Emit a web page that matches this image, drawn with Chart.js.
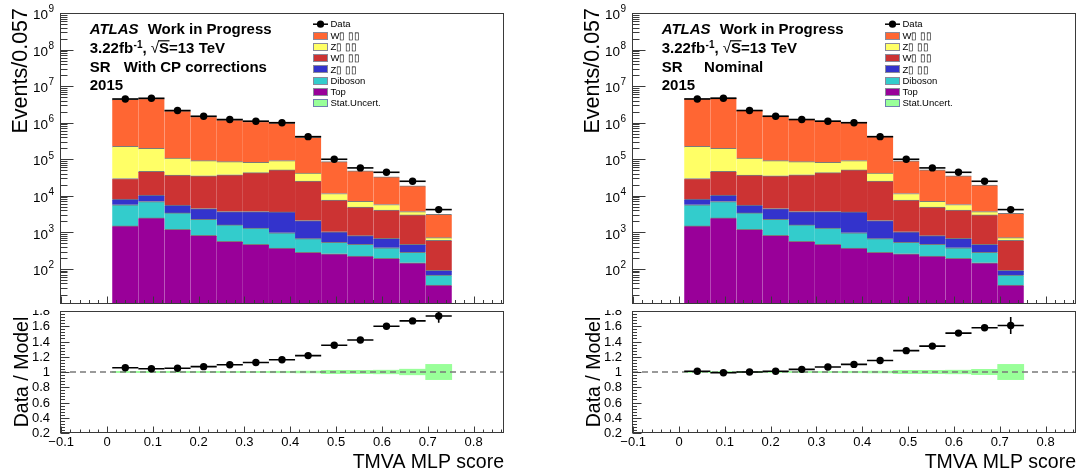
<!DOCTYPE html>
<html>
<head>
<meta charset="utf-8">
<title>TMVA MLP score</title>
<script src="https://cdn.jsdelivr.net/npm/chart.js@4.4.1/dist/chart.umd.min.js"></script>
<style>
  body { margin: 0; background: #fff; }
  #wrap { position: relative; width: 1084px; height: 472px; overflow: hidden; }
  canvas { position: absolute; }
</style>
</head>
<body>
<div id="wrap">
  <canvas id="topCP" width="542" height="309" style="left:0;top:0"></canvas>
  <canvas id="ratioCP" width="542" height="162" style="left:0;top:310px"></canvas>
  <canvas id="topNom" width="512" height="309" style="left:572px;top:0"></canvas>
  <canvas id="ratioNom" width="512" height="162" style="left:572px;top:310px"></canvas>
</div>
<script>
const FONT = '"Liberation Sans", Arial, Helvetica, sans-serif';

// binning: 0.057 wide bins
const xMin = -0.1026, xMax = 0.8664, binWidth = 0.057;
const binCenters = [0.0399, 0.0969, 0.1539, 0.2109, 0.2679, 0.3249, 0.3819, 0.4389, 0.4959, 0.5529, 0.6099, 0.6669, 0.7239];

// tick labels
const xTickLabels = [-0.1, 0, 0.1, 0.2, 0.3, 0.4, 0.5, 0.6, 0.7, 0.8];
const logTickExps = [2, 3, 4, 5, 6, 7, 8, 9];
const ratioTickLabels = [0.2, 0.4, 0.6, 0.8, 1, 1.2, 1.4, 1.6, 1.8];

// legend
const legendLabels = ['Data', 'W▯ ▯▯', 'Z▯ ▯▯', 'W▯ ▯▯', 'Z▯ ▯▯', 'Diboson', 'Top', 'Stat.Uncert.'];
const legendColors = [null, '#ff6633', '#ffff66', '#cc3333', '#3333cc', '#33cccc', '#990099', '#99ff99'];

// events per bin for each background (stack order bottom -> top)
const topEv     = [1500, 2490, 1220, 830, 570, 470, 370, 285, 260, 225, 195, 147, 36];
const dibosonEv = [4160, 4480, 2190, 1460, 1030, 850, 610, 390, 275, 245, 185, 137, 32];
const zBlueEv   = [2440, 3530, 2140, 2190, 2100, 2380, 2650, 1430, 500, 345, 305, 185, 23];
const wRedEv    = [21700, 36000, 31500, 31000, 34100, 39300, 47400, 23300, 6570, 4090, 3410, 2530, 516];
const zYellowEv = [196000, 153500, 70900, 56100, 48200, 39000, 41000, 16600, 4000, 2200, 1700, 700, 109];
const wOrangeCP  = [4110000, 4340000, 2010000, 1388000, 1114000, 998000, 878000, 358000, 74400, 41500, 27500, 15100, 2420];
const wOrangeNom = [4350000, 4650000, 2120000, 1450000, 1160000, 1040000, 915000, 375000, 79000, 44000, 29500, 16000, 2600];

const dataEv = [4450000, 4650000, 2150000, 1500000, 1220000, 1100000, 1000000, 415000, 100000, 58000, 44000, 25000, 4200];

// Data / Model
const ratioCP     = [1.056, 1.043, 1.05, 1.07, 1.095, 1.125, 1.16, 1.215, 1.35, 1.42, 1.60, 1.67, 1.735];
const ratioErrCP  = [0.004, 0.004, 0.005, 0.005, 0.006, 0.006, 0.007, 0.01, 0.015, 0.02, 0.025, 0.035, 0.09];
const bandCP      = [0.008, 0.008, 0.008, 0.008, 0.008, 0.008, 0.01, 0.012, 0.022, 0.022, 0.024, 0.037, 0.1];
const ratioNom    = [1.01, 0.99, 1.0, 1.01, 1.035, 1.065, 1.10, 1.15, 1.28, 1.34, 1.51, 1.58, 1.61];
const ratioErrNom = [0.004, 0.004, 0.005, 0.005, 0.006, 0.006, 0.007, 0.01, 0.015, 0.02, 0.025, 0.035, 0.11];
const bandNom     = [0.008, 0.008, 0.008, 0.008, 0.008, 0.008, 0.01, 0.012, 0.022, 0.022, 0.024, 0.035, 0.1];

const pts = vals => vals.map((v, i) => ({ x: binCenters[i], y: v }));

// horizontal bin-width bars + vertical errors on the data points
const errorBars = {
  id: 'errorBars',
  afterDatasetsDraw(chart) {
    const ctx = chart.ctx, xs = chart.scales.x, ys = chart.scales.y, a = chart.chartArea;
    ctx.save();
    ctx.beginPath();
    ctx.rect(a.left, a.top, a.right - a.left, a.bottom - a.top);
    ctx.clip();
    ctx.strokeStyle = '#000';
    ctx.lineWidth = 1.6;
    chart.data.datasets.forEach(ds => {
      if (ds.errX === undefined) return;
      ds.data.forEach((p, i) => {
        const y = ys.getPixelForValue(p.y);
        ctx.beginPath();
        ctx.moveTo(xs.getPixelForValue(p.x - ds.errX), y);
        ctx.lineTo(xs.getPixelForValue(p.x + ds.errX), y);
        if (ds.errY) {
          const px = xs.getPixelForValue(p.x);
          ctx.moveTo(px, ys.getPixelForValue(p.y - ds.errY[i]));
          ctx.lineTo(px, ys.getPixelForValue(p.y + ds.errY[i]));
        }
        ctx.stroke();
      });
    });
    ctx.restore();
  }
};

function drawTexts(ctx, L, o) {
  const x0 = L + 29.7;
  ctx.fillStyle = '#000';
  ctx.textAlign = 'left';
  ctx.textBaseline = 'alphabetic';
  ctx.font = `italic bold 15px ${FONT}`;
  ctx.fillText('ATLAS', x0, 34.3);
  ctx.font = `bold 15px ${FONT}`;
  ctx.fillText('Work in Progress', L + 87.7, 34.3);

  let x = x0;
  ctx.fillText('3.22fb', x, 53.3);
  x += ctx.measureText('3.22fb').width + 0.5;
  ctx.font = `bold 10px ${FONT}`;
  ctx.fillText('-1', x, 47.5);
  x += ctx.measureText('-1').width;
  ctx.font = `bold 15px ${FONT}`;
  ctx.fillText(', ', x, 53.3);
  x += ctx.measureText(', ').width;
  ctx.font = `15px ${FONT}`;
  ctx.fillText('√', x, 53.3);
  x += ctx.measureText('√').width;
  ctx.font = `bold 15px ${FONT}`;
  const sw = ctx.measureText('S').width;
  ctx.fillText('S=13 TeV', x, 53.3);
  ctx.lineWidth = 1.2;
  ctx.strokeStyle = '#000';
  ctx.beginPath();
  ctx.moveTo(x - 1, 40.8);
  ctx.lineTo(x + sw + 0.5, 40.8);
  ctx.stroke();

  ctx.fillText('SR', x0, 71.7);
  ctx.fillText(o.region, L + o.regionOffset, 71.7);
  ctx.fillText('2015', x0, 90);

  // legend
  const bx = L + 253, tx = L + 270.5;
  ctx.font = `9.5px ${FONT}`;
  ctx.textBaseline = 'middle';
  legendLabels.forEach((lab, i) => {
    const cy = 24.2 + i * 11.3;
    if (i === 0) {
      ctx.strokeStyle = '#000';
      ctx.lineWidth = 1.5;
      ctx.beginPath();
      ctx.moveTo(bx, cy); ctx.lineTo(bx + 15, cy);
      ctx.stroke();
      ctx.beginPath();
      ctx.arc(bx + 7.5, cy, 3.6, 0, Math.PI * 2);
      ctx.fillStyle = '#000';
      ctx.fill();
    } else {
      ctx.fillStyle = legendColors[i];
      ctx.fillRect(bx, Math.round(cy - 4), 15, 8);
      ctx.strokeStyle = i === 7 ? '#7080b0' : '#8a8a9a';
      ctx.lineWidth = 1;
      ctx.strokeRect(bx + 0.5, Math.round(cy - 4) + 0.5, 14, 7);
    }
    ctx.fillStyle = '#000';
    ctx.fillText(lab, tx, cy + 0.5);
  });
}

// ROOT-style frame, inward ticks, labels and titles
const rootAxes = {
  id: 'rootAxes',
  afterDraw(chart, args, o) {
    const ctx = chart.ctx, a = chart.chartArea, xs = chart.scales.x, ys = chart.scales.y;
    const L = Math.round(a.left) + 0.5, R = Math.round(a.right) - 0.5;
    const T = Math.round(a.top) + 0.5, B = Math.round(a.bottom) - 0.5;
    ctx.save();
    ctx.strokeStyle = '#3a3a3a';
    ctx.lineWidth = 1;
    ctx.beginPath();
    xTickLabels.forEach(v => {
      for (let k = 0; k < 5; k++) {
        const t = v + k * 0.02;
        if (t > xMax) break;
        const px = Math.round(xs.getPixelForValue(t)) + 0.5;
        ctx.moveTo(px, B);
        ctx.lineTo(px, B - (k === 0 ? o.xMajor : o.xMinor));
      }
    });
    if (o.log) {
      for (let e = 1; e <= 9; e++) {
        for (let m = 1; m <= 9; m++) {
          const v = m * Math.pow(10, e);
          if (v < ys.min || v > ys.max * 1.0001) continue;
          const py = Math.round(ys.getPixelForValue(v)) + 0.5;
          ctx.moveTo(L, py);
          ctx.lineTo(L + (m === 1 ? 13 : 7), py);
        }
      }
    } else {
      ratioTickLabels.forEach(v => {
        for (let k = 0; k < 5; k++) {
          const t = v + k * 0.04;
          if (t > ys.max + 1e-6) break;
          const py = Math.round(ys.getPixelForValue(t)) + 0.5;
          ctx.moveTo(L, py);
          ctx.lineTo(L + (k === 0 ? 9 : 4.5), py);
        }
      });
    }
    ctx.stroke();
    ctx.strokeRect(L, T, R - L, B - T);

    ctx.fillStyle = '#000';
    if (o.log) {
      logTickExps.forEach(e => {
        const py = ys.getPixelForValue(Math.pow(10, e));
        ctx.font = `13.5px ${FONT}`;
        ctx.textAlign = 'right';
        ctx.textBaseline = 'middle';
        ctx.fillText('10', a.left - 12, py + 2.5);
        ctx.font = `10px ${FONT}`;
        ctx.textAlign = 'left';
        ctx.fillText(String(e), a.left - 11.5, py - 3.5);
      });
      ctx.save();
      ctx.translate(21, 8);
      ctx.rotate(-Math.PI / 2);
      ctx.font = `21.5px ${FONT}`;
      ctx.textAlign = 'right';
      ctx.textBaseline = 'middle';
      ctx.fillText('Events/0.057', 0, 0);
      ctx.restore();
      drawTexts(ctx, a.left, o);
    } else {
      ctx.font = `13px ${FONT}`;
      ctx.textAlign = 'right';
      ctx.textBaseline = 'middle';
      ratioTickLabels.forEach(v => {
        ctx.fillText(String(v), a.left - 10, ys.getPixelForValue(v) + 0.5);
      });
      ctx.textAlign = 'center';
      xTickLabels.forEach(v => {
        const lab = v < 0 ? '\u2212' + String(-v) : String(v);
        ctx.fillText(lab, xs.getPixelForValue(v), a.bottom + 9.5);
      });
      ctx.font = `19.5px ${FONT}`;
      ctx.textAlign = 'right';
      ctx.textBaseline = 'alphabetic';
      ctx.fillText('TMVA MLP score', a.right, 158);
      ctx.save();
      ctx.translate(22.4, (a.top + a.bottom) / 2);
      ctx.rotate(-Math.PI / 2);
      ctx.font = `19.5px ${FONT}`;
      ctx.textAlign = 'center';
      ctx.textBaseline = 'middle';
      ctx.fillText('Data / Model', 0, 0);
      ctx.restore();
    }
    ctx.restore();
  }
};

const xScale = {
  type: 'linear', min: xMin, max: xMax, display: false, offset: false,
  ticks: { includeBounds: false, stepSize: 0.1 }
};

function makeTop(id, wOrange, padRight, region, regionOffset) {
  const comps = [
    [topEv, legendColors[6]], [dibosonEv, legendColors[5]], [zBlueEv, legendColors[4]],
    [wRedEv, legendColors[3]], [zYellowEv, legendColors[2]], [wOrange, legendColors[1]]
  ];
  const sets = comps.map(([vals, col]) => ({
    type: 'bar',
    data: pts(vals),
    backgroundColor: col,
    borderColor: '#7a7a7a',
    borderWidth: { top: 1, left: 0, right: 0, bottom: 0 },
    borderSkipped: false,
    barPercentage: 1,
    categoryPercentage: 1
  }));
  sets.push({
    type: 'scatter', data: pts(dataEv), order: -1,
    pointRadius: 3.7, pointBackgroundColor: '#000', pointBorderWidth: 0,
    errX: binWidth / 2
  });
  return new Chart(document.getElementById(id), {
    type: 'bar',
    data: { datasets: sets },
    options: {
      responsive: false, animation: false, events: [],
      layout: { autoPadding: false, padding: { left: 60, right: padRight, top: 13, bottom: 5 } },
      scales: {
        x: Object.assign({ stacked: true }, xScale),
        y: { type: 'logarithmic', min: 11, max: 1e9, display: false, stacked: true }
      },
      plugins: {
        legend: { display: false }, tooltip: { enabled: false },
        rootAxes: { log: true, xMajor: 7, xMinor: 3.5, region, regionOffset }
      }
    },
    plugins: [errorBars, rootAxes]
  });
}

function makeRatio(id, ratio, ratioErr, band, padRight) {
  return new Chart(document.getElementById(id), {
    type: 'bar',
    data: {
      datasets: [
        {
          type: 'scatter', data: pts(ratio), order: 0,
          pointRadius: 3.7, pointBackgroundColor: '#000', pointBorderWidth: 0,
          errX: binWidth / 2, errY: ratioErr
        },
        {
          type: 'line', data: [{ x: xMin, y: 1 }, { x: xMax, y: 1 }], order: 1,
          borderColor: '#7a7a7a', borderWidth: 1.3, borderDash: [6, 4], pointRadius: 0
        },
        {
          type: 'bar', order: 2,
          data: binCenters.map((c, i) => ({ x: c, y: [1 - band[i], 1 + band[i]] })),
          backgroundColor: '#99ff99', borderWidth: 0,
          barPercentage: 1, categoryPercentage: 1
        }
      ]
    },
    options: {
      responsive: false, animation: false, events: [],
      layout: { autoPadding: false, padding: { left: 60, right: padRight, top: 1, bottom: 39 } },
      scales: {
        x: xScale,
        y: { type: 'linear', min: 0.2, max: 1.8, display: false }
      },
      plugins: {
        legend: { display: false }, tooltip: { enabled: false },
        rootAxes: { log: false, xMajor: 6, xMinor: 3 }
      }
    },
    plugins: [errorBars, rootAxes]
  });
}

makeTop('topCP', wOrangeCP, 38, 'With CP corrections', 63.7);
makeRatio('ratioCP', ratioCP, ratioErrCP, bandCP, 38);
makeTop('topNom', wOrangeNom, 8, 'Nominal', 72.1);
makeRatio('ratioNom', ratioNom, ratioErrNom, bandNom, 8);
</script>
</body>
</html>
